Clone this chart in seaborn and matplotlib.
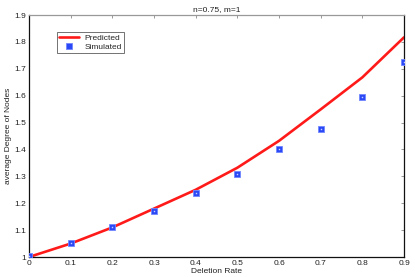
import matplotlib
matplotlib.use("Agg")

import matplotlib.pyplot as plt
import seaborn as sns
import pandas as pd

# data
rate      = [0.0, 0.1, 0.2, 0.3, 0.4, 0.5, 0.6, 0.7, 0.8, 0.9]
predicted = [1.0, 1.05, 1.11, 1.18, 1.25, 1.332, 1.432, 1.549, 1.668, 1.817]
simulated = [1.005, 1.051, 1.113, 1.171, 1.237, 1.309, 1.400, 1.476, 1.595, 1.726]

xticks = [0, 0.1, 0.2, 0.3, 0.4, 0.5, 0.6, 0.7, 0.8, 0.9]
xtick_labels = ["0", "0.1", "0.2", "0.3", "0.4", "0.5", "0.6", "0.7", "0.8", "0.9"]
yticks = [1.0, 1.1, 1.2, 1.3, 1.4, 1.5, 1.6, 1.7, 1.8, 1.9]
ytick_labels = ["1", "1.1", "1.2", "1.3", "1.4", "1.5", "1.6", "1.7", "1.8", "1.9"]

RED  = "#ff1a1a"
BLUE = "#2a48f5"
FS   = 6

sns.set_theme(style="white")
plt.rcParams.update({
    "font.family": ["Liberation Sans", "DejaVu Sans"],
    "xtick.direction": "in",
    "ytick.direction": "in",
})

df = pd.DataFrame({"rate": rate, "predicted": predicted, "simulated": simulated})

fig = plt.figure(figsize=(4.15, 2.77), dpi=100, facecolor="white")
ax = fig.add_axes([0.0699, 0.0722, 0.9036, 0.8736])

sns.lineplot(data=df, x="rate", y="predicted", ax=ax, color=RED, lw=1.9,
             label="Predicted", zorder=2)
ax.plot(df["rate"], df["simulated"], ls="none", marker="s", ms=5,
        mfc=BLUE, mec="#6f86ff", mew=0.6, label="Simulated", zorder=3)
ax.plot(df["rate"], df["simulated"], ls="none", marker="s", ms=1.0,
        mfc="#c8d2ff", mec="none", zorder=4)

ax.set_xlim(0, 0.9)
ax.set_ylim(1.0, 1.9)
ax.set_xticks(xticks, xtick_labels)
ax.set_yticks(yticks, ytick_labels)
ax.tick_params(axis="both", labelsize=FS, colors="#222222", length=2.5,
               width=0.6, pad=2, top=True, right=True)
ax.tick_params(axis="both", which="both", color="#888888")

ax.set_title("n=0.75, m=1", fontsize=FS, pad=3, color="#222222")
ax.set_xlabel("Deletion Rate", fontsize=FS, labelpad=1, color="#222222")
ax.set_ylabel("average Degree of Nodes", fontsize=FS, labelpad=2, color="#222222")

for side in ["left", "bottom", "right"]:
    ax.spines[side].set_color("#111111")
    ax.spines[side].set_linewidth(0.9)
ax.spines["top"].set_color("#999999")
ax.spines["top"].set_linewidth(0.9)

leg = ax.legend(loc="upper left", bbox_to_anchor=(0.075, 0.93), fontsize=FS,
                frameon=True, fancybox=False, edgecolor="#333333",
                borderpad=0.25, handlelength=2.4, handletextpad=0.6,
                labelspacing=0.1, borderaxespad=0)
leg.get_frame().set_linewidth(0.6)

fig.savefig("out.png", dpi=100, facecolor="white")
